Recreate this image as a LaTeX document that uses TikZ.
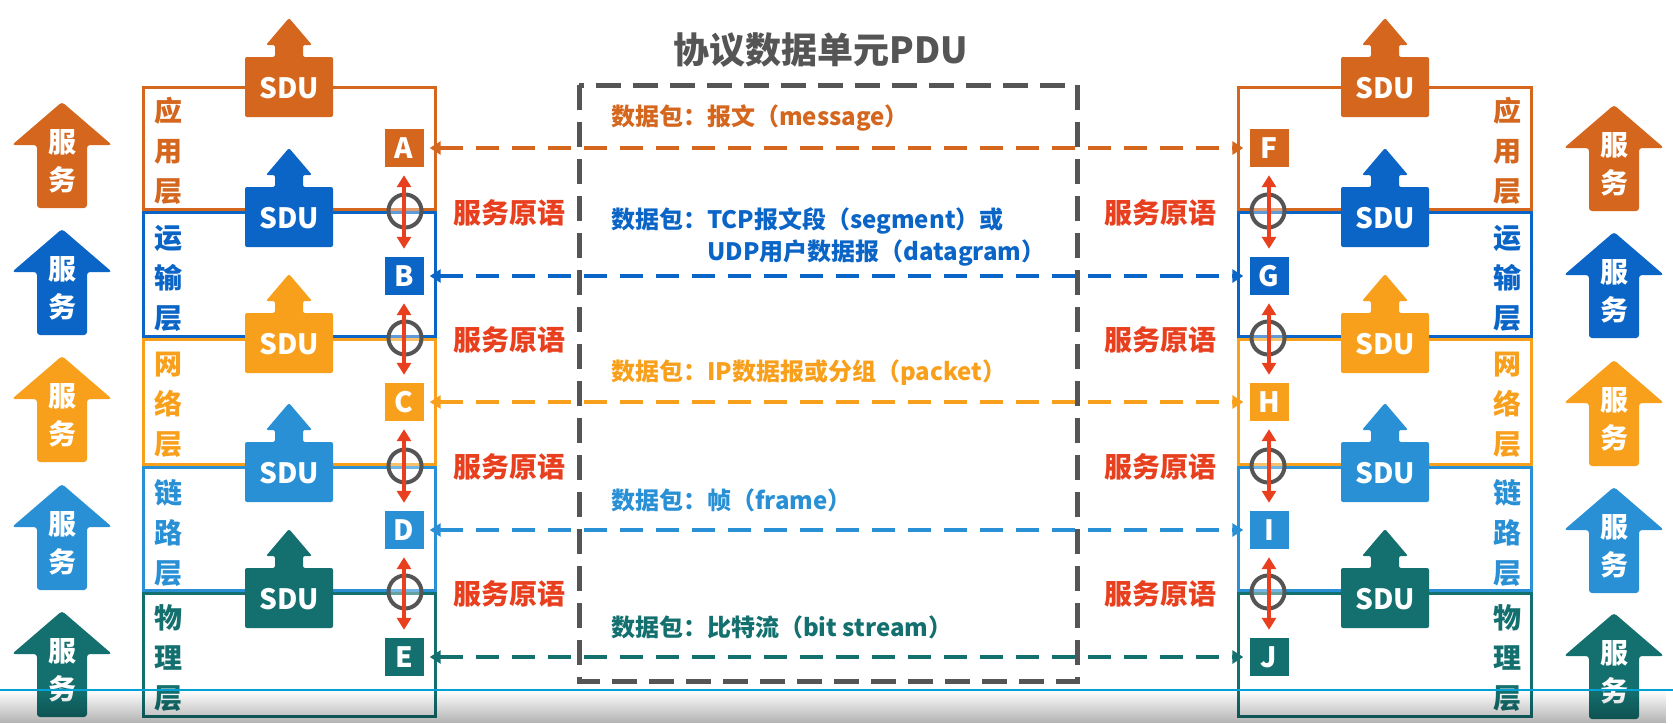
\documentclass[tikz,border=0pt]{standalone}
\usepackage{fontspec}
\setmainfont{Noto Sans CJK SC}
\usetikzlibrary{arrows.meta,fadings}

\definecolor{capp}{HTML}{D4661E}
\definecolor{ctrn}{HTML}{0B65C6}
\definecolor{cnet}{HTML}{F8A01C}
\definecolor{clnk}{HTML}{2990D6}
\definecolor{cphy}{HTML}{13706F}
\definecolor{cred}{HTML}{E8401F}
\definecolor{cgray}{HTML}{555555}
\definecolor{cbar}{HTML}{00A1D6}

\newcommand\fsz[2]{\fontsize{#1pt}{#2pt}\selectfont}

% SDU shape: cx, cy, colour, name
\newcommand\sdushape[4]{%
  \fill[#3, rounded corners=2pt] (#1-44,#2+30) -- (#1-44,#2-30) -- (#1-14,#2-30) -- (#1-14,#2-42) -- (#1-23,#2-42) -- (#1,#2-69) -- (#1+23,#2-42) -- (#1+14,#2-42) -- (#1+14,#2-30) -- (#1+44,#2-30) -- (#1+44,#2+30) -- cycle;
  \node[sdutext] (#4) at (#1,#2+1) {SDU};}

% service arrow: cx, tip y, colour, name
\newcommand\svcarrow[4]{%
  \fill[#3, rounded corners=3pt] (#1,#2) -- (#1+50,#2+43) -- (#1+25,#2+43) -- (#1+25,#2+106) -- (#1-25,#2+106) -- (#1-25,#2+43) -- (#1-50,#2+43) -- cycle;
  \node[svctext] (#4) at (#1,#2+59) {服\\务};}

\tikzset{
  sdutext/.style={text=white, font=\bfseries\fsz{28}{28}, inner sep=0},
  svctext/.style={text=white, font=\bfseries\fsz{28}{38}, align=center, inner sep=0},
  letterbox/.style={fill=#1, text=white, minimum width=39pt, minimum height=38pt, inner sep=0, font=\bfseries\fsz{28}{28}},
  layerlab/.style={text=#1, font=\bfseries\fsz{28}{40}, align=center, inner sep=0},
  layerbox/.style={draw=#1, line width=3pt},
  pdutext/.style={text=#1, font=\bfseries\fsz{24}{24}, anchor=west, inner sep=0},
  primtext/.style={text=cred, font=\bfseries\fsz{28}{28}, inner sep=0},
  peer/.style={draw=#1, line width=4.5pt, dash pattern=on 23pt off 13pt,
    {Triangle[length=11pt,width=13pt]}-{Triangle[length=11pt,width=13pt]},
    shorten <=6pt, shorten >=6pt},
  redarr/.style={draw=cred, line width=3.5pt,
    {Triangle[length=12pt,width=14pt]}-{Triangle[length=12pt,width=14pt]},
    shorten <=8pt, shorten >=8pt},
  primcirc/.style={circle, draw=cgray, line width=4pt, minimum size=33pt, inner sep=0, fill=white, fill opacity=0.35, draw opacity=1},
  pdubox/.style={draw=cgray, line width=5pt, dash pattern=on 25pt off 12pt}
}

\begin{document}
\begin{tikzpicture}[x=1pt,y=-1pt]
\useasboundingbox (0,0) rectangle (1673,723);
\fill[white] (0,0) rectangle (1673,723);

% layer boxes
\foreach \c/\t/\b in {capp/86/211, ctrn/211/338, cnet/338/466, clnk/466/592, cphy/592/718}{
  \draw[layerbox=\c] (143,\t+1.5) rectangle (435,\b-1.5);
  \draw[layerbox=\c] (1238,\t+1.5) rectangle (1531,\b-1.5);
}

% SDU shapes
\sdushape{289}{87}{capp}{sduL1}
\sdushape{289}{217}{ctrn}{sduL2}
\sdushape{289}{343}{cnet}{sduL3}
\sdushape{289}{472}{clnk}{sduL4}
\sdushape{289}{598}{cphy}{sduL5}
\sdushape{1385}{87}{capp}{sduR1}
\sdushape{1385}{217}{ctrn}{sduR2}
\sdushape{1385}{343}{cnet}{sduR3}
\sdushape{1385}{472}{clnk}{sduR4}
\sdushape{1385}{598}{cphy}{sduR5}

% service arrows
\svcarrow{62}{102}{capp}{svL1}
\svcarrow{62}{229}{ctrn}{svL2}
\svcarrow{62}{356}{cnet}{svL3}
\svcarrow{62}{484}{clnk}{svL4}
\svcarrow{62}{611}{cphy}{svL5}
\svcarrow{1614}{105}{capp}{svR1}
\svcarrow{1614}{232}{ctrn}{svR2}
\svcarrow{1614}{360}{cnet}{svR3}
\svcarrow{1614}{487}{clnk}{svR4}
\svcarrow{1614}{613}{cphy}{svR5}

% layer labels
\node[layerlab=capp] (labL1) at (168,151) {应\\用\\层};
\node[layerlab=ctrn] (labL2) at (168,278) {运\\输\\层};
\node[layerlab=cnet] (labL3) at (168,405) {网\\络\\层};
\node[layerlab=clnk] (labL4) at (168,533) {链\\路\\层};
\node[layerlab=cphy] (labL5) at (168,658) {物\\理\\层};
\node[layerlab=capp] (labR1) at (1507,151) {应\\用\\层};
\node[layerlab=ctrn] (labR2) at (1507,278) {运\\输\\层};
\node[layerlab=cnet] (labR3) at (1507,405) {网\\络\\层};
\node[layerlab=clnk] (labR4) at (1507,533) {链\\路\\层};
\node[layerlab=cphy] (labR5) at (1507,658) {物\\理\\层};

% letter boxes
\node[letterbox=capp] (A) at (404,148) {A};
\node[letterbox=ctrn] (B) at (404,276) {B};
\node[letterbox=cnet] (C) at (404,402) {C};
\node[letterbox=clnk] (D) at (404,530) {D};
\node[letterbox=cphy] (E) at (404,657) {E};
\node[letterbox=capp] (F) at (1269,148) {F};
\node[letterbox=ctrn] (G) at (1269,276) {G};
\node[letterbox=cnet] (H) at (1269,402) {H};
\node[letterbox=clnk] (I) at (1269,530) {I};
\node[letterbox=cphy] (J) at (1269,657) {J};

% circles
\node[primcirc] (cL1) at (405,211) {};
\node[primcirc] (cL2) at (405,338) {};
\node[primcirc] (cL3) at (405,466) {};
\node[primcirc] (cL4) at (405,592) {};
\node[primcirc] (cR1) at (1268,211) {};
\node[primcirc] (cR2) at (1268,338) {};
\node[primcirc] (cR3) at (1268,466) {};
\node[primcirc] (cR4) at (1268,592) {};

% red primitive arrows
\draw[redarr] (A) -- (B);
\draw[redarr] (B) -- (C);
\draw[redarr] (C) -- (D);
\draw[redarr] (D) -- (E);
\draw[redarr] (F) -- (G);
\draw[redarr] (G) -- (H);
\draw[redarr] (H) -- (I);
\draw[redarr] (I) -- (J);

% PDU box and title
\draw[pdubox] (579,85) rectangle (1077,681);
\node[text=cgray, font=\bfseries\fsz{36}{36}, inner sep=0] (title) at (821,50) {协议数据单元PDU};

% peer dashed arrows
\draw[peer=capp] (A) -- (F);
\draw[peer=ctrn] (B) -- (G);
\draw[peer=cnet] (C) -- (H);
\draw[peer=clnk] (D) -- (I);
\draw[peer=cphy] (E) -- (J);

% PDU texts
\node[pdutext=capp] (p1) at (611,118) {数据包：报文（message）};
\node[pdutext=ctrn] (p2a) at (611,221) {数据包：TCP报文段（segment）或};
\node[pdutext=ctrn] (p2b) at (707,253) {UDP用户数据报（datagram）};
\node[pdutext=cnet] (p3) at (611,373) {数据包：IP数据报或分组（packet）};
\node[pdutext=clnk] (p4) at (611,500) {数据包：帧（frame）};
\node[pdutext=cphy] (p5) at (611,627) {数据包：比特流（bit stream）};

% service primitive labels
\foreach \y [count=\i] in {213,340,467,594}{
  \node[primtext] (primL\i) at (509,\y) {服务原语};
  \node[primtext] (primR\i) at (1160,\y) {服务原语};
}

% player overlay band
\fill[black, opacity=0.3, path fading=north] (0,690) rectangle (1673,723);
\draw[cbar, line width=2.5pt] (0,690) -- (1673,690);
\end{tikzpicture}
\end{document}
